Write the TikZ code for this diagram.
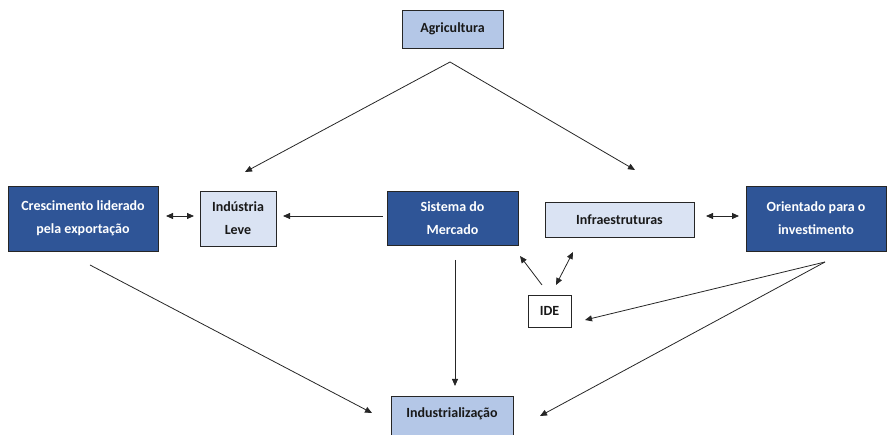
\documentclass[tikz,border=0pt]{standalone}
\usepackage{fontspec}
\setmainfont{Carlito}
\usetikzlibrary{arrows.meta}
\definecolor{dk}{HTML}{2F5597}
\definecolor{lt}{HTML}{B4C7E7}
\definecolor{vl}{HTML}{DAE3F3}
\begin{document}
\begin{tikzpicture}[x=1pt,y=-1pt,
  box/.style={draw=black!85,line width=0.8pt,font=\fontsize{14}{23}\selectfont\bfseries,align=center,inner sep=0pt,text=black!90},
  darkbox/.style={box,fill=dk,text=white},
  conn/.style={line width=0.8pt,draw=black!85,-{Triangle[length=7pt,width=6pt]}},
  dconn/.style={conn,{Triangle[length=7pt,width=6pt]}-{Triangle[length=7pt,width=6pt]}}]
\useasboundingbox (0,0) rectangle (889,435);
\node[box,fill=lt,minimum width=101pt,minimum height=38pt] (agr) at (452.5,29) {Agricultura};
\node[darkbox,minimum width=150pt,minimum height=65pt] (cre) at (83,218.5) {Crescimento liderado\\pela exportação};
\node[box,fill=vl,minimum width=76pt,minimum height=55pt] (ind) at (238,218.5) {Indústria\\Leve};
\node[darkbox,minimum width=131pt,minimum height=54pt] (sis) at (452.5,218) {Sistema do\\Mercado};
\node[box,fill=vl,minimum width=149pt,minimum height=35pt] (inf) at (619.5,219.5) {Infraestruturas};
\node[darkbox,minimum width=140pt,minimum height=65pt] (ori) at (816,218.5) {Orientado para o\\investimento};
\node[box,fill=white,minimum width=43pt,minimum height=32pt] (ide) at (549.5,311) {IDE};
\node[box,fill=lt,minimum width=122pt,minimum height=44pt,anchor=north] (indz) at (452,396) {};
\node[font=\fontsize{14}{23}\selectfont\bfseries,text=black!90] (indzt) at (452,414) {Industrialização};
\coordinate (a0) at (450,62);
\coordinate (a1) at (245,172);
\coordinate (a2) at (635,170);
\coordinate (s0) at (455,260);
\coordinate (s1) at (455,386);
\coordinate (c0) at (90,265);
\coordinate (c1) at (372,413);
\coordinate (o0) at (825,262);
\coordinate (o1) at (585,320);
\coordinate (o2) at (540,416);
\coordinate (i0) at (542,285);
\coordinate (i1) at (520,256);
\coordinate (i2) at (556,285);
\coordinate (i3) at (573,252);
\coordinate (m0) at (383,216);
\coordinate (m1) at (283,216);
\coordinate (e0) at (166,216);
\coordinate (e1) at (194,216);
\coordinate (r0) at (706,216);
\coordinate (r1) at (739,216);
\draw[conn] (a0) -- (a1);
\draw[conn] (a0) -- (a2);
\draw[dconn] (e0) -- (e1);
\draw[conn] (m0) -- (m1);
\draw[dconn] (r0) -- (r1);
\draw[conn] (s0) -- (s1);
\draw[conn] (c0) -- (c1);
\draw[conn] (o0) -- (o1);
\draw[conn] (o0) -- (o2);
\draw[conn] (i0) -- (i1);
\draw[dconn] (i2) -- (i3);
\end{tikzpicture}
\end{document}
